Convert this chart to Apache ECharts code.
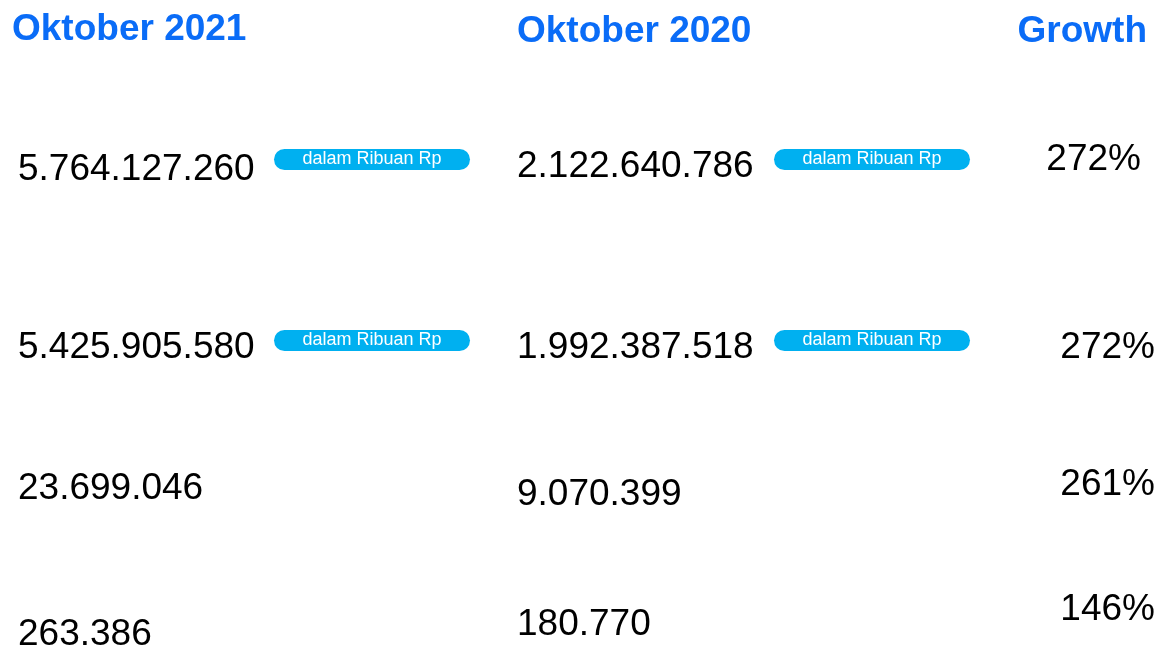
<!DOCTYPE html>
<html>
<head>
<meta charset="utf-8">
<title>Oktober 2021 vs Oktober 2020</title>
<script src="https://cdn.jsdelivr.net/npm/echarts@6/dist/echarts.min.js"></script>
<style>
  html, body { margin: 0; padding: 0; background: #fff; }
  #chart { width: 1159px; height: 646px; }
</style>
</head>
<body>
<div id="chart"></div>
<script>
// ---- data ----
const columns = ['Oktober 2021', 'Oktober 2020', 'Growth'];
const oct2021 = [5764127260, 5425905580, 23699046, 263386];
const oct2020 = [2122640786, 1992387518, 9070399, 180770];
const growth = [272, 272, 261, 146]; // percent
const unitNote = ['dalam Ribuan Rp', 'dalam Ribuan Rp', '', ''];

// ---- layout / style (not data) ----
const FONT = "'Liberation Sans', Arial, sans-serif";
const BLUE = '#0a6cf7';
const BADGE = '#00b0f0';
// horizontal anchoring of each column
const colAlign = ['left', 'left', 'right'];
const colDx = [0, -69.5, 0];
// small per-cell nudges to follow the original slide layout
const headDx = [-6, -69.5, -8];
const headDy = [1, 3, 3];
const cellDx = [
  [0, 0, -14],
  [0, 0, 0],
  [0, 0, 0],
  [0, 0, 0]
];
const cellDy = [
  [-7, -10, -17],
  [23.5, 23.5, 23.5],
  [17, 23, 13],
  [15, 5, -10]
];
const badgeDx = [354, 285.5];
const badgeDy = [-17.25, 16];

// Indonesian thousands separator
function fmt(n) {
  return String(n).replace(/\B(?=(\d{3})+(?!\d))/g, '.');
}

const rowKeys = ['head'].concat(oct2021.map((_, i) => 'r' + i));

const headerData = columns.map((c, i) => ({
  value: [i, 0],
  name: c,
  label: { align: colAlign[i], offset: [headDx[i], headDy[i]] }
}));

const cellData = [];
oct2021.forEach((v, r) => {
  const texts = [fmt(v), fmt(oct2020[r]), growth[r] + '%'];
  texts.forEach((t, c) => {
    cellData.push({
      value: [c, r + 1],
      name: t,
      label: { align: colAlign[c], offset: [colDx[c] + cellDx[r][c], cellDy[r][c]] }
    });
  });
});

const badgeData = [];
unitNote.forEach((u, r) => {
  if (!u) return;
  [0, 1].forEach((c) => {
    badgeData.push({
      value: [c, r + 1],
      name: u,
      label: { offset: [badgeDx[c], badgeDy[r]] }
    });
  });
});

const textSeries = (name, data, label) => ({
  name,
  type: 'scatter',
  symbolSize: 0,
  silent: true,
  itemStyle: { opacity: 1 },
  emphasis: { disabled: true },
  data,
  label: Object.assign({
    show: true,
    position: 'inside',
    verticalAlign: 'middle',
    formatter: (p) => p.name,
    fontFamily: FONT,
    opacity: 1
  }, label)
});

const chart = echarts.init(document.getElementById('chart'));
chart.setOption({
  backgroundColor: '#fff',
  animation: false,
  grid: { left: 18, right: 4, top: 29, bottom: 26 },
  xAxis: { type: 'category', data: columns, boundaryGap: false, show: false },
  yAxis: { type: 'category', data: rowKeys, inverse: true, boundaryGap: false, show: false },
  series: [
    textSeries('header', headerData, {
      fontWeight: 'bold',
      fontSize: 37,
      color: BLUE
    }),
    textSeries('values', cellData, {
      fontSize: 37,
      color: '#000'
    }),
    textSeries('unit', badgeData, {
      align: 'center',
      fontSize: 18,
      color: '#fff',
      backgroundColor: BADGE,
      width: 196,
      height: 21,
      lineHeight: 21,
      borderRadius: 11
    })
  ]
});
</script>
</body>
</html>
